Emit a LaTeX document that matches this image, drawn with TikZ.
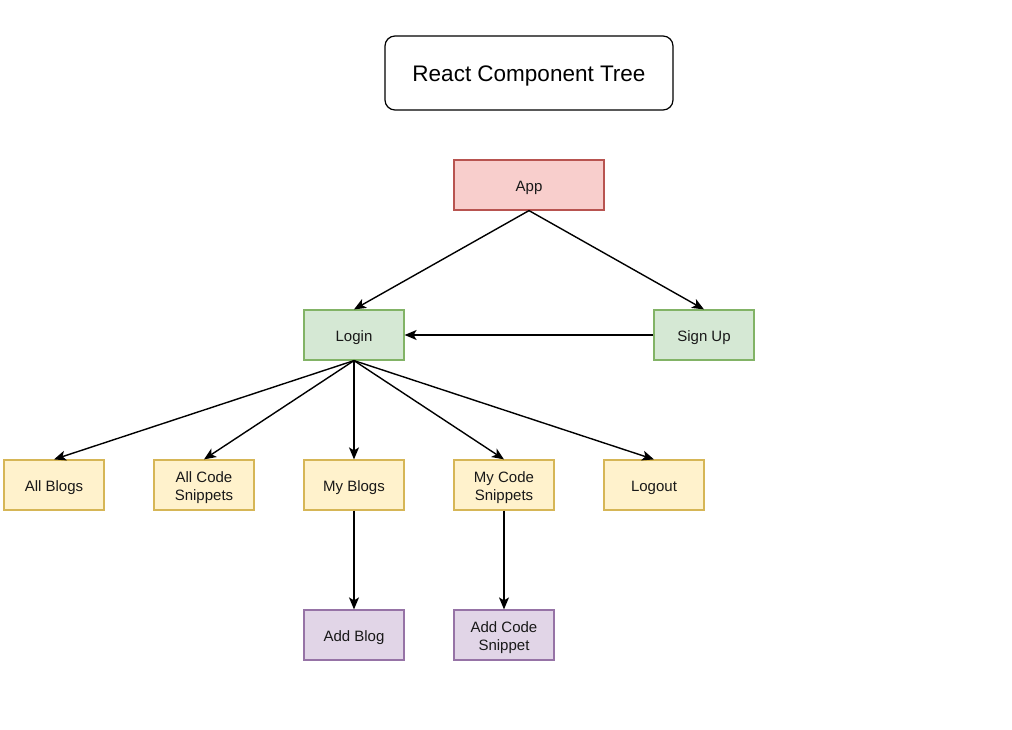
\documentclass[tikz,border=0pt]{standalone}
\usepackage{fontspec}
\setmainfont{Liberation Sans}
\usetikzlibrary{arrows.meta}
\definecolor{redF}{HTML}{F8CECC}\definecolor{redD}{HTML}{B85450}
\definecolor{grnF}{HTML}{D5E8D4}\definecolor{grnD}{HTML}{82B366}
\definecolor{yelF}{HTML}{FFF2CC}\definecolor{yelD}{HTML}{D6B656}
\definecolor{purF}{HTML}{E1D5E7}\definecolor{purD}{HTML}{9673A6}
\tikzset{
  box/.style={draw, line width=1.2pt, minimum width=100pt, minimum height=50pt, inner sep=0pt, align=center, font=\fontsize{15}{17.3}\selectfont, text=black!90, text height=13.4pt, text depth=0pt},
  two/.style={text height=30pt, text depth=0pt},
  redbox/.style={box, fill=redF, draw=redD},
  grnbox/.style={box, fill=grnF, draw=grnD},
  yelbox/.style={box, fill=yelF, draw=yelD},
  purbox/.style={box, fill=purF, draw=purD},
  titlebox/.style={draw, line width=1.2pt, rounded corners=10pt, minimum width=288pt, minimum height=74pt, inner sep=0pt, font=\fontsize{22.5}{27}\selectfont, text height=17.4pt, text depth=0pt},
  conn/.style={line width=1.4pt, -{Stealth[length=12pt, width=10pt, inset=3pt]}}
}
\begin{document}
\begin{tikzpicture}[x=1pt, y=-1pt]
\useasboundingbox (0,0) rectangle (1012,730);
\node[titlebox] (title) at (529,73) {React Component Tree};
\node[redbox, minimum width=150pt] (app) at (529,185) {App};
\node[grnbox] (login) at (354,335) {Login};
\node[grnbox] (signup) at (704,335) {Sign Up};
\node[yelbox] (allblogs) at (54,485) {All Blogs};
\node[yelbox, two] (allcode) at (204,485) {All Code\\Snippets};
\node[yelbox] (myblogs) at (354,485) {My Blogs};
\node[yelbox, two] (mycode) at (504,485) {My Code\\Snippets};
\node[yelbox] (logout) at (654,485) {Logout};
\node[purbox] (addblog) at (354,635) {Add Blog};
\node[purbox, two] (addcode) at (504,635) {Add Code\\Snippet};
\draw[conn] (app.south) -- (login.north);
\draw[conn] (app.south) -- (signup.north);
\draw[conn] (signup.west) -- (login.east);
\foreach \t in {allblogs,allcode,myblogs,mycode,logout}
  \draw[conn] (login.south) -- (\t.north);
\draw[conn] (myblogs.south) -- (addblog.north);
\draw[conn] (mycode.south) -- (addcode.north);
\end{tikzpicture}
\end{document}
